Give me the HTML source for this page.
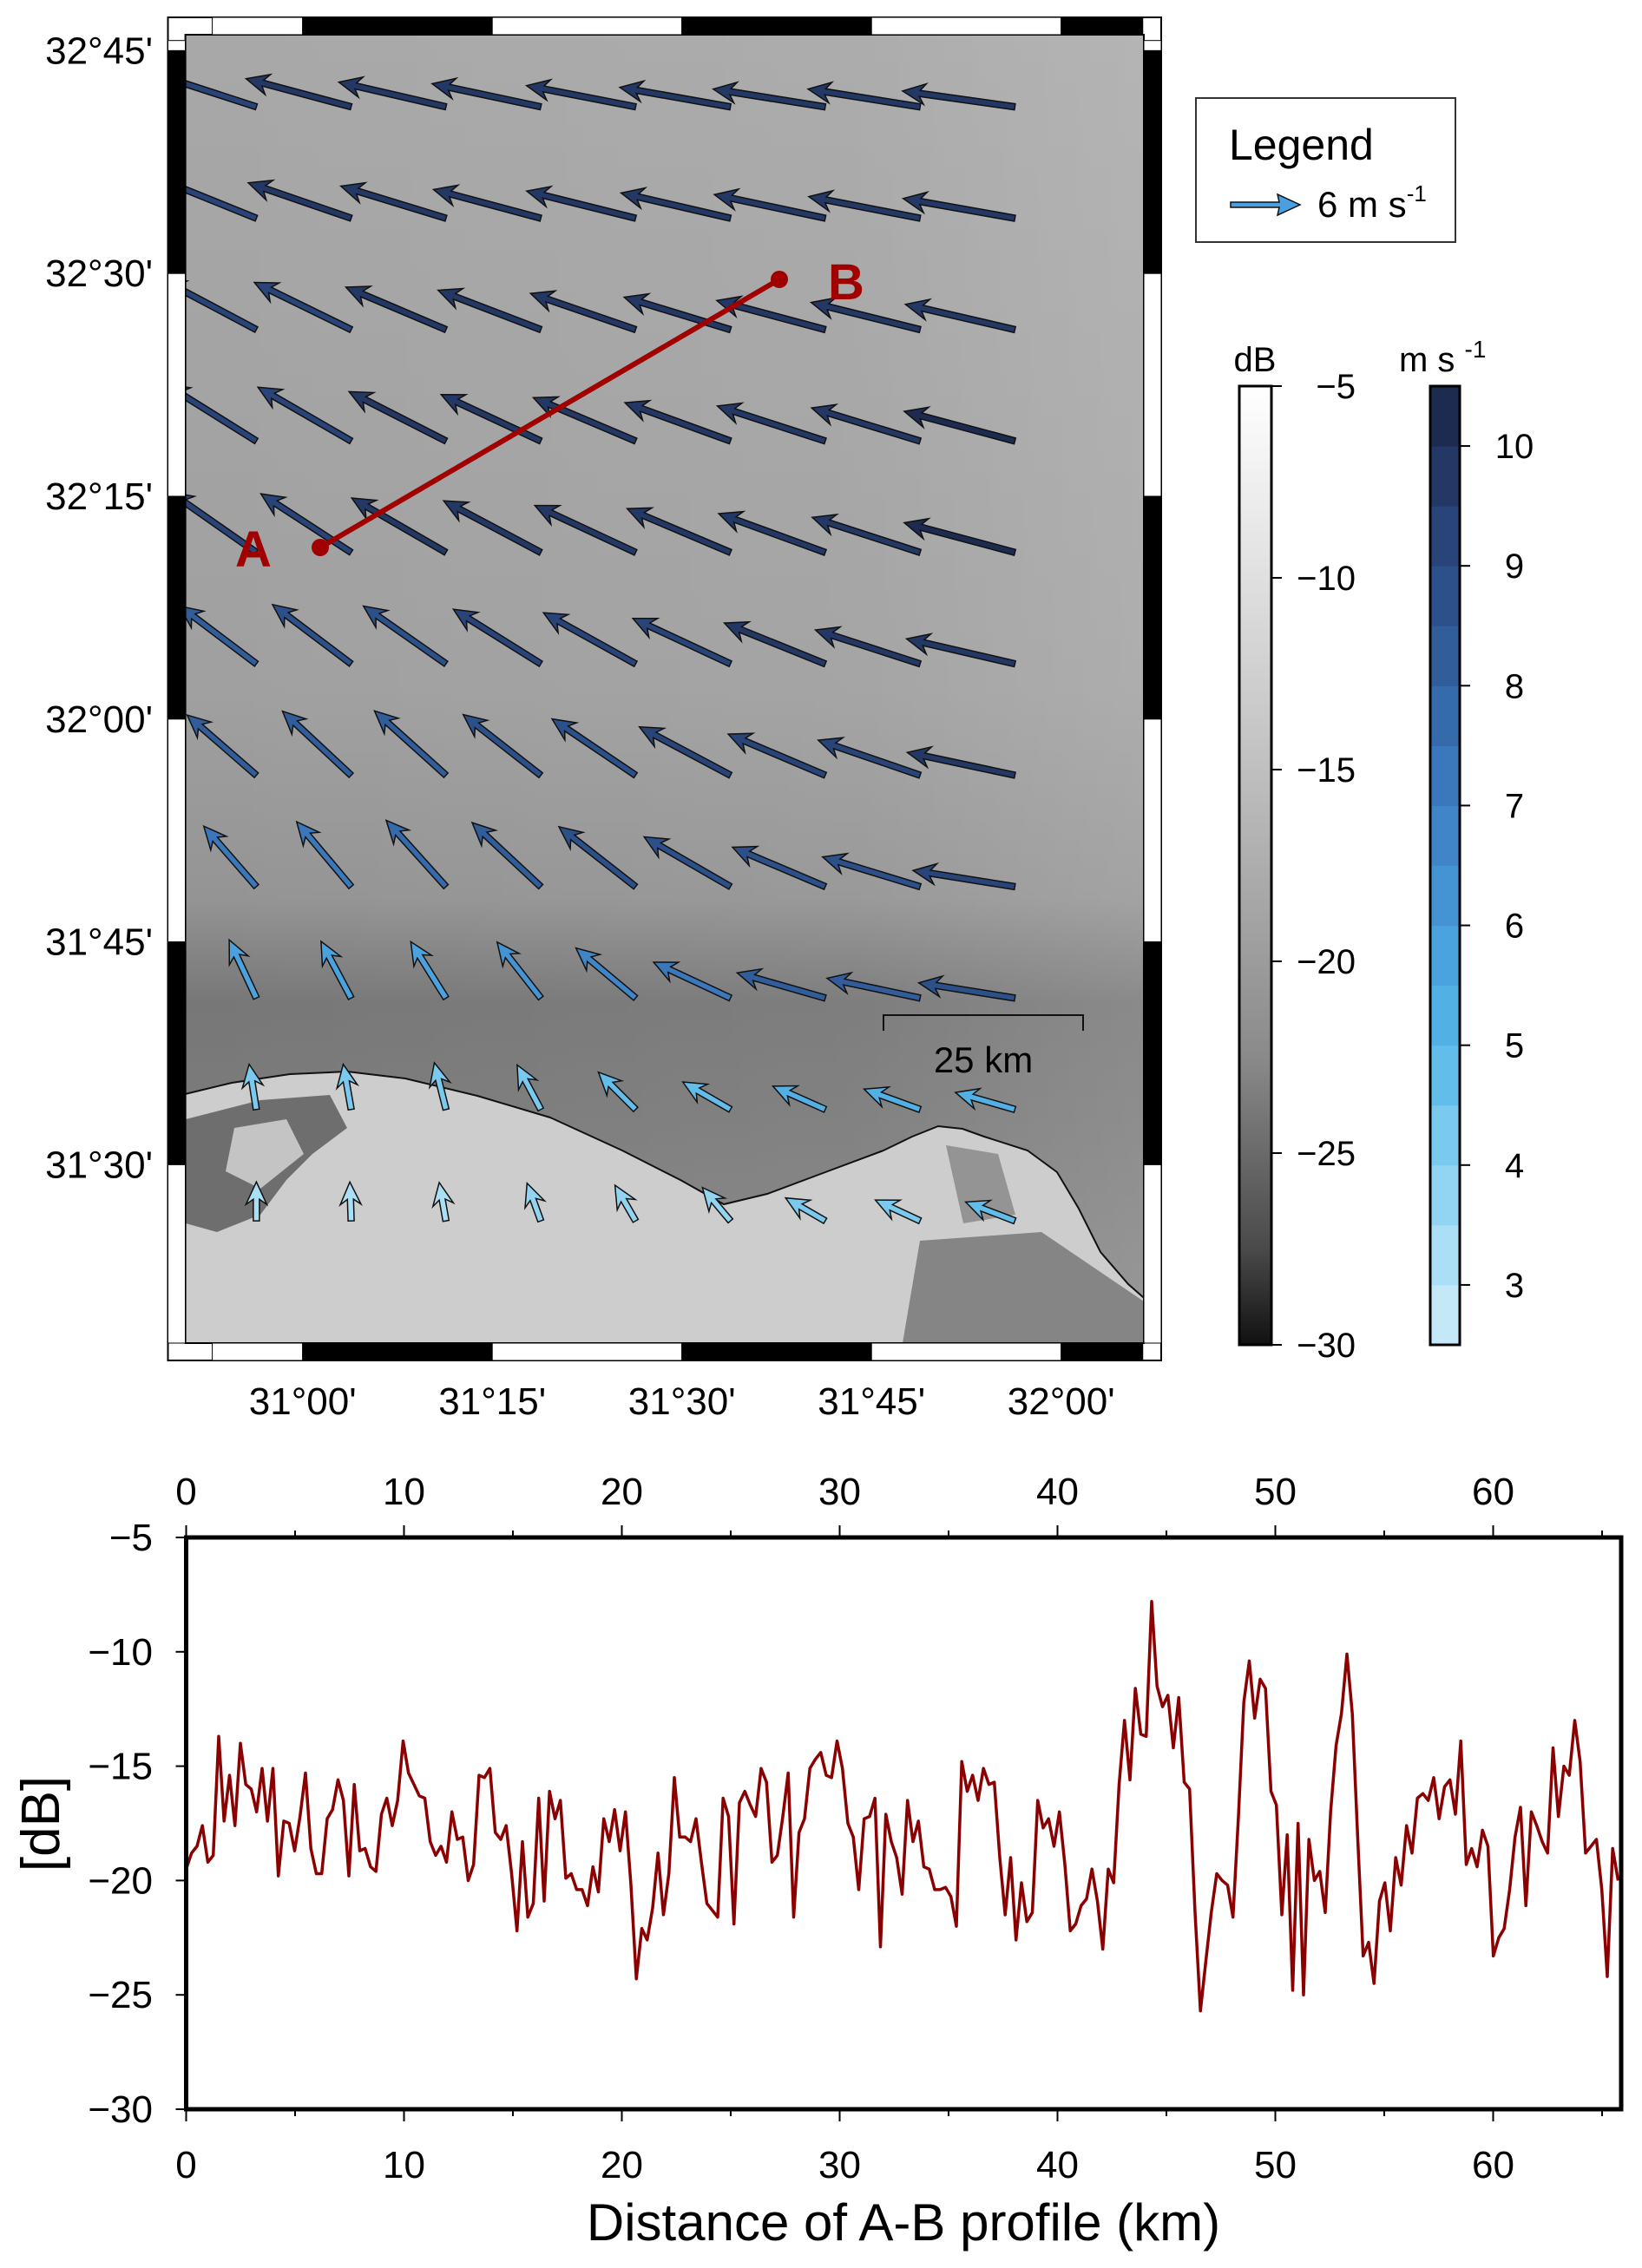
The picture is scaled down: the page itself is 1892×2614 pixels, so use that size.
<!DOCTYPE html>
<html><head><meta charset="utf-8"><style>
html,body{margin:0;padding:0;background:#fff}
svg{display:block;font-family:"Liberation Sans",Arial,sans-serif}
</style></head><body>
<svg id="fig" width="1892" height="2614" viewBox="0 0 1892 2614" xmlns="http://www.w3.org/2000/svg">
<defs>
<clipPath id="mapclip"><rect x="213.6" y="40" width="1104.4" height="1508"/></clipPath>
<linearGradient id="sea" x1="0" y1="0" x2="0" y2="1">
<stop offset="0" stop-color="#a8a8a8"/><stop offset="0.5" stop-color="#a0a0a0"/>
<stop offset="0.66" stop-color="#949494"/><stop offset="0.74" stop-color="#777"/>
<stop offset="0.84" stop-color="#7c7c7c"/><stop offset="1" stop-color="#888"/></linearGradient>
<linearGradient id="seaR" x1="0" y1="0" x2="1" y2="0">
<stop offset="0" stop-color="#fff" stop-opacity="0"/><stop offset="0.7" stop-color="#fff" stop-opacity="0.05"/><stop offset="1" stop-color="#fff" stop-opacity="0.14"/></linearGradient>
<linearGradient id="dbgrad" x1="0" y1="0" x2="0" y2="1">
<stop offset="0" stop-color="#ffffff"/><stop offset="0.35" stop-color="#c8c8c8"/><stop offset="0.7" stop-color="#8a8a8a"/><stop offset="0.9" stop-color="#4a4a4a"/><stop offset="1" stop-color="#111"/></linearGradient>
</defs>
<g id="map">
<g clip-path="url(#mapclip)">
<rect x="213.6" y="40" width="1104.4" height="1508" fill="url(#sea)"/>
<rect x="213.6" y="40" width="1104.4" height="1508" fill="url(#seaR)"/>
<polygon fill="#cdcdcd" stroke="#111" stroke-width="2" points="205,1263 267,1248 334,1238 400,1235 467,1243 550,1263 634,1288 717,1326 784,1360 834,1388 884,1376 951,1351 1018,1326 1051,1310 1081,1298 1109,1301 1134,1310 1184,1326 1218,1351 1243,1393 1268,1443 1300,1480 1325,1502 1325,1560 205,1560"/>
<path d="M214,1290 L300,1268 L380,1262 L400,1300 L360,1330 L330,1360 L300,1400 L250,1420 L214,1410 Z" fill="#6e6e6e"/>
<path d="M270,1300 L330,1290 L350,1330 L300,1370 L260,1350 Z" fill="#c4c4c4"/>
<path d="M1060,1430 L1200,1420 L1318,1500 L1318,1548 L1040,1548 Z" fill="#858585"/>
<path d="M1090,1320 L1150,1330 L1170,1400 L1110,1410 Z" fill="#949494"/>
<g id="arrows"></g>
<line x1="369" y1="631" x2="898" y2="322" stroke="#a00000" stroke-width="6"/>
<circle cx="369" cy="631" r="10" fill="#a00000"/>
<circle cx="898" cy="322" r="10" fill="#a00000"/>
<text x="292" y="653" font-size="58" font-weight="bold" fill="#a00000" text-anchor="middle">A</text>
<text x="975" y="345" font-size="58" font-weight="bold" fill="#a00000" text-anchor="middle">B</text>
<g stroke="#111" stroke-width="2" fill="none">
<polyline points="1018,1188 1018,1170 1248,1170 1248,1188"/></g>
<text x="1133" y="1236" font-size="42" text-anchor="middle" fill="#000">25 km</text>
</g>
<g id="frame"></g>
</g>
<g>
<rect x="1378" y="113" width="299" height="166" fill="#fff" stroke="#333" stroke-width="2"/>
<text x="1416" y="184" font-size="50" fill="#000">Legend</text>
<polygon points="1418,233 1474,233 1472,224 1498,236 1472,248 1474,239 1418,239" fill="#4a9fe0" stroke="#111" stroke-width="1.5"/>
<text x="1518" y="250" font-size="42" fill="#000">6 m s<tspan font-size="26" dy="-18">-1</tspan></text>
</g>
<g id="cbars"></g>
<g id="profile"></g>
</svg>
<script>
const NS='http://www.w3.org/2000/svg';
function mk(tag,attrs,parent,txt){const e=document.createElementNS(NS,tag);for(const k in attrs)e.setAttribute(k,attrs[k]);if(txt!==undefined)e.textContent=txt;parent.appendChild(e);return e;}

// ---------- wind data (direction deg, CCW from east; speed m/s) ----------
const windLon0=30.939, windLat0=32.687, windStep=0.125;
const windDir=[
[162,165,167,168,169,170,171,171,172],
[158,161,163,165,166,167,168,169,170],
[152,154,157,159,161,163,165,166,167],
[148,150,153,155,157,160,162,163,165],
[145,147,150,152,155,157,160,162,165],
[143,143,145,148,151,155,158,162,167],
[139,137,138,142,146,152,157,161,168],
[131,130,132,137,142,150,157,163,171],
[115,118,122,128,140,155,164,168,171],
[99,100,104,118,135,150,156,160,164],
[90,92,100,110,120,130,150,155,159]];
const windSpeed=[
[9.4,9.5,9.6,9.7,9.7,9.8,9.9,9.9,9.9],
[9.4,9.5,9.6,9.7,9.8,9.8,9.9,9.9,9.9],
[9.3,9.4,9.5,9.6,9.7,9.7,9.8,9.8,9.8],
[9.3,9.4,9.5,9.6,9.7,9.8,9.9,9.9,10.0],
[9.2,9.4,9.5,9.6,9.7,9.8,9.9,9.9,10.0],
[8.4,8.6,8.8,9.0,9.2,9.4,9.5,9.6,9.7],
[8.0,8.2,8.4,8.6,8.8,9.0,9.2,9.4,9.6],
[7.0,7.4,7.8,8.2,8.5,8.7,8.8,8.9,9.0],
[5.6,5.6,5.8,6.2,6.8,7.4,8.0,8.3,8.5],
[4.0,4.0,4.2,4.4,4.6,4.8,5.0,5.2,5.4],
[3.4,3.4,3.4,3.5,3.6,3.8,4.0,4.3,4.6]];

// ---------- profile data ----------
const profileStepKm=0.249;
const profileDb=[-19.5,-18.8,-18.5,-17.6,-19.2,-18.9,-13.7,-17.4,-15.4,-17.6,
-14.0,-15.8,-16.0,-17.0,-15.1,-17.4,-15.1,-19.8,-17.4,-17.5,
-18.7,-17.2,-15.3,-18.6,-19.7,-19.7,-17.3,-16.9,-15.6,-16.5,
-19.8,-15.8,-18.7,-18.6,-19.4,-19.6,-17.1,-16.4,-17.6,-16.5,
-13.9,-15.3,-15.8,-16.3,-16.4,-18.3,-18.9,-18.5,-19.2,-17.0,
-18.2,-18.1,-20.0,-19.3,-15.4,-15.5,-15.1,-17.9,-18.2,-17.6,
-19.7,-22.2,-18.3,-21.6,-21.0,-16.4,-20.9,-16.1,-17.3,-16.5,
-19.9,-19.7,-20.4,-20.4,-21.1,-19.4,-20.5,-17.3,-18.3,-16.9,
-18.7,-17.0,-20.2,-24.3,-22.1,-22.6,-21.2,-18.8,-21.5,-19.7,
-15.5,-18.1,-18.1,-18.3,-17.3,-19.2,-21.0,-21.3,-21.6,-16.4,
-17.2,-21.9,-16.6,-16.1,-16.7,-17.2,-15.1,-15.7,-19.2,-18.9,
-17.2,-15.3,-21.6,-17.9,-17.3,-15.1,-14.7,-14.4,-15.4,-15.5,
-13.9,-15.1,-17.5,-18.1,-20.4,-17.3,-17.2,-16.4,-22.9,-17.1,
-18.3,-19.0,-20.6,-16.5,-18.3,-17.4,-19.4,-19.5,-20.4,-20.4,
-20.3,-20.7,-22.0,-14.8,-16.1,-15.4,-16.5,-15.1,-15.8,-15.7,
-19.0,-21.5,-19.0,-22.6,-20.1,-21.8,-21.4,-16.5,-17.7,-17.3,
-18.5,-17.0,-19.3,-22.2,-21.9,-21.1,-20.8,-19.5,-20.9,-23.0,
-19.5,-20.1,-15.8,-13.0,-15.6,-11.6,-13.6,-13.7,-7.8,-11.5,
-12.4,-11.9,-14.2,-12.0,-15.7,-16.0,-21.4,-25.7,-23.5,-21.4,
-19.7,-20.0,-20.2,-21.6,-17.2,-12.2,-10.4,-12.9,-11.2,-11.6,
-16.1,-16.7,-21.5,-18.0,-24.8,-17.5,-25.0,-18.2,-20.0,-19.6,
-21.4,-17.0,-14.1,-12.7,-10.1,-12.7,-18.2,-23.3,-22.7,-24.5,
-20.9,-20.1,-22.2,-19.0,-20.2,-17.6,-18.8,-16.4,-16.2,-16.5,
-15.5,-17.3,-15.9,-15.6,-17.1,-13.9,-19.3,-18.6,-19.4,-17.8,
-18.5,-23.3,-22.5,-22.1,-20.4,-18.1,-16.8,-21.1,-17.0,-17.6,
-18.3,-18.8,-14.2,-17.2,-15.0,-15.4,-13.0,-14.8,-18.8,-18.5,
-18.2,-20.4,-24.2,-18.6,-20.0];
const profileXTicks=[0,10,20,30,40,50,60];
const profileYTicks=[-5,-10,-15,-20,-25,-30];
const mapLonTicks=[31.0,31.25,31.5,31.75,32.0];
const mapLonLabels=["31°00'","31°15'","31°30'","31°45'","32°00'"];
const mapLatTicks=[32.75,32.5,32.25,32.0,31.75,31.5];
const mapLatLabels=["32°45'","32°30'","32°15'","32°00'","31°45'","31°30'"];
const dbTicks=[-5,-10,-15,-20,-25,-30];
const windTicks=[3,4,5,6,7,8,9,10];

// ---------- map axes ----------
const lonX=lon=>348.7+(lon-31.0)*874;
const latY=lat=>58.4+(32.75-lat)*1027.2;
const windColors=['#c4e8f7','#abdff5','#92d5f2','#79caee','#62bdea','#52b0e5','#4aa3de','#4494d4','#3f85c8','#3a77bb','#356aab','#315d9b','#2c508a','#284478','#233865','#1c2b4f'];
const speedColor=s=>windColors[Math.max(0,Math.min(15,Math.floor((s-2.5)/0.5)))];

const ag=document.getElementById('arrows');
for(let r=0;r<windDir.length;r++){for(let c=0;c<windDir[r].length;c++){
  const tx=lonX(windLon0+c*windStep), ty=latY(windLat0-r*windStep);
  const a=windDir[r][c]*Math.PI/180, L=windSpeed[r][c]*13.2;
  const ux=Math.cos(a), uy=-Math.sin(a), px=-uy, py=ux;
  const hl=26, hw=12, sw=3.5;
  const bx=tx+ux*(L-hl), by=ty+uy*(L-hl), hx=tx+ux*L, hy=ty+uy*L;
  const nx=tx+ux*(L-hl+6), ny=ty+uy*(L-hl+6);
  const pts=[[tx+px*sw,ty+py*sw],[nx+px*sw,ny+py*sw],[bx+px*hw,by+py*hw],[hx,hy],[bx-px*hw,by-py*hw],[nx-px*sw,ny-py*sw],[tx-px*sw,ty-py*sw]];
  const p=mk('polygon',{points:pts.map(q=>q[0].toFixed(1)+','+q[1].toFixed(1)).join(' '),fill:speedColor(windSpeed[r][c]),stroke:'#111','stroke-width':1.5},ag);
  
  
}}

// frame
const fr=document.getElementById('frame');
mk('rect',{x:193.5,y:20,width:1144.5,height:1548,fill:'none',stroke:'#000','stroke-width':2},fr);
mk('rect',{x:213.6,y:40,width:1104.4,height:1508,fill:'none',stroke:'#000','stroke-width':2},fr);
const lonEdges=[30.8809,31.0,31.25,31.5,31.75,32.0,32.1076];
for(let i=0;i<lonEdges.length-1;i++){
  const x0=Math.max(213.6,lonX(lonEdges[i])), x1=Math.min(1318,lonX(lonEdges[i+1]));
  const col=(i%2===1)?'#000':'#fff';
  [20,1548].forEach(y=>{const b=mk('rect',{x:x0,y:y,width:x1-x0,height:20,fill:col,stroke:'#000','stroke-width':1},fr);
  });
}
const latEdges=[32.7614,32.75,32.5,32.25,32.0,31.75,31.5,31.2826];
for(let i=0;i<latEdges.length-1;i++){
  const y0=Math.max(40,latY(latEdges[i])), y1=Math.min(1548,latY(latEdges[i+1]));
  const col=(i%2===1)?'#000':'#fff';
  [193.5,1318].forEach(x=>{const b=mk('rect',{x:x,y:y0,width:20,height:y1-y0,fill:col,stroke:'#000','stroke-width':1},fr);
  });
}
mapLonTicks.forEach((v,i)=>{const t=mk('text',{x:lonX(v),y:1630,'font-size':44,'text-anchor':'middle',fill:'#000'},fr,mapLonLabels[i]);
});
mapLatTicks.forEach((v,i)=>{const t=mk('text',{x:176,y:latY(v)+15,'font-size':44,'text-anchor':'end',fill:'#000'},fr,mapLatLabels[i]);
});

// colorbars
const cb=document.getElementById('cbars');
const dbY=v=>445+(-5-v)/25*1105;
const wY=v=>1550-(v-2.5)/8*1105;
const dbBar=mk('rect',{x:1428,y:445,width:37,height:1105,fill:'url(#dbgrad)',stroke:'#000','stroke-width':3},cb);

mk('text',{x:1446,y:428,'font-size':40,'text-anchor':'middle'},cb,'dB');
dbTicks.forEach(v=>{mk('line',{x1:1465,x2:1477,y1:dbY(v),y2:dbY(v),stroke:'#000','stroke-width':2},cb);
const t=mk('text',{x:1562,y:dbY(v)+14,'font-size':40,'text-anchor':'end'},cb,'\u2212'+Math.abs(v));
});
for(let i=0;i<16;i++){const v0=2.5+i*0.5;mk('rect',{x:1648,y:wY(v0+0.5),width:34,height:wY(v0)-wY(v0+0.5)+0.5,fill:windColors[i]},cb);}
const wb=mk('rect',{x:1648,y:445,width:34,height:1105,fill:'none',stroke:'#000','stroke-width':3},cb);

mk('text',{x:1612,y:428,'font-size':40},cb).innerHTML='m s <tspan font-size="28" dy="-16">-1</tspan>';
windTicks.forEach(v=>{mk('line',{x1:1682,x2:1694,y1:wY(v),y2:wY(v),stroke:'#000','stroke-width':2},cb);
const t=mk('text',{x:1745,y:wY(v)+14,'font-size':40,'text-anchor':'middle'},cb,String(v));
});

// ---------- profile chart ----------
const pg=document.getElementById('profile');
const PX0=214.5, PX1=1868, PY0=1772, PY1=2431;
const kx=km=>PX0+km*25.1;
const dy=db=>PY0+(-5-db)/25*(PY1-PY0);
mk('rect',{x:PX0,y:PY0,width:PX1-PX0,height:PY1-PY0,fill:'#fff',stroke:'none'},pg);
const pts=profileDb.map((v,i)=>kx(i*profileStepKm).toFixed(1)+','+dy(v).toFixed(1)).join(' ');
const line=mk('polyline',{points:pts,fill:'none',stroke:'#8b0000','stroke-width':3.5,'stroke-linejoin':'round'},pg);

const frm=mk('rect',{x:PX0,y:PY0,width:PX1-PX0,height:PY1-PY0,fill:'none',stroke:'#000','stroke-width':5},pg);

for(let k=0;k<=65;k+=5){const major=k%10===0,len=major?14:8;
 mk('line',{x1:kx(k),x2:kx(k),y1:PY1,y2:PY1+len,stroke:'#000','stroke-width':2},pg);
 mk('line',{x1:kx(k),x2:kx(k),y1:PY0,y2:PY0-len,stroke:'#000','stroke-width':2},pg);}
profileXTicks.forEach(v=>{
 const t=mk('text',{x:kx(v),y:2510,'font-size':44,'text-anchor':'middle'},pg,String(v));
 
 const t2=mk('text',{x:kx(v),y:1734,'font-size':44,'text-anchor':'middle'},pg,String(v));
 });
profileYTicks.forEach(v=>{
 mk('line',{x1:PX0-12,x2:PX0,y1:dy(v),y2:dy(v),stroke:'#000','stroke-width':2},pg);
 const t=mk('text',{x:176,y:dy(v)+15,'font-size':44,'text-anchor':'end'},pg,'\u2212'+Math.abs(v));
 });
const xt=mk('text',{x:1041,y:2582,'font-size':60,'text-anchor':'middle'},pg,'Distance of A-B profile (km)');

const yt=mk('text',{x:0,y:0,'font-size':62,'text-anchor':'middle',transform:'translate(68,2102) rotate(-90)'},pg,'[dB]');

</script>
</body></html>
